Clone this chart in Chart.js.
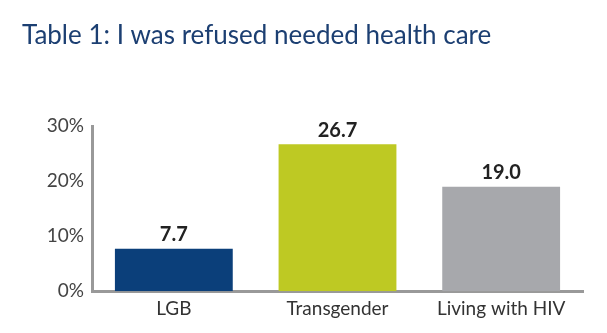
<!DOCTYPE html>
<html><head><meta charset="utf-8">
<script src="https://cdn.jsdelivr.net/npm/chart.js@4"></script>
<style>html,body{margin:0;padding:0;background:#fff;}#wrap{width:607px;height:333px;}</style>
</head><body><div id="wrap"><canvas id="c" width="607" height="333"></canvas></div>
<script>
const categories = ["LGB", "Transgender", "Living with HIV"];
const values = [7.7, 26.7, 19.0];
const barColors = ["#0b3f7a", "#bec923", "#a7a8ac"];
const yTicks = [0, 10, 20, 30];
const titleText = "Table 1: I was refused needed health care";

const valueLabels = {
  id: 'valueLabels',
  afterDatasetsDraw(chart) {
    const ctx = chart.ctx;
    const meta = chart.getDatasetMeta(0);
    ctx.save();
    ctx.font = "bold 20px Lato";
    ctx.fillStyle = "#222";
    ctx.textAlign = "center";
    ctx.textBaseline = "bottom";
    meta.data.forEach((el, i) => {
      ctx.fillText(values[i].toFixed(1), el.x, el.y - 4);
    });
    ctx.restore();
  }
};

new Chart(document.getElementById('c'), {
  type: 'bar',
  data: {
    labels: categories,
    datasets: [{ data: values, backgroundColor: barColors, barPercentage: 0.72, categoryPercentage: 1.0 }]
  },
  options: {
    responsive: false,
    animation: false,
    layout: { padding: { left: 22, right: 24, top: 0, bottom: 7 } },
    plugins: {
      legend: { display: false },
      tooltip: { enabled: false },
      title: {
        display: true, text: titleText, align: 'start',
        color: '#1c3f72', font: { family: 'Lato', size: 26, weight: 'normal' },
        padding: { top: 20, bottom: 75 }
      }
    },
    scales: {
      y: {
        min: 0, max: 30,
        afterBuildTicks(axis) { axis.ticks = yTicks.map(v => ({ value: v })); },
        afterFit(axis) { axis.width = 70; },
        grid: { display: false, drawTicks: false },
        border: { display: true, color: '#999', width: 3 },
        ticks: { callback: v => v + '%', color: '#444', font: { family: 'Lato', size: 19 }, padding: 8 }
      },
      x: {
        grid: { display: false, drawTicks: false },
        border: { display: true, color: '#999', width: 3 },
        ticks: { color: '#333', font: { family: 'Lato', size: 19 }, padding: 6 }
      }
    }
  },
  plugins: [valueLabels]
});
</script></body></html>
